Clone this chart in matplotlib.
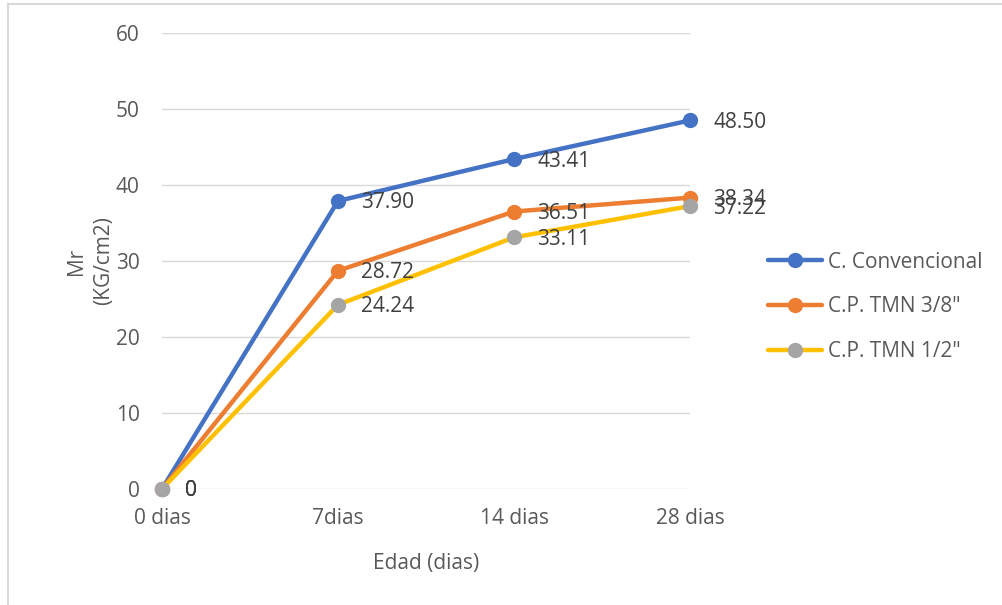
import matplotlib
matplotlib.use("Agg")
import matplotlib.pyplot as plt
from matplotlib.lines import Line2D

categories = ["0 dias", "7dias", "14 dias", "28 dias"]
series_names = ["C. Convencional", "C.P. TMN 3/8\"", "C.P. TMN 1/2\""]
convencional = [0, 37.90, 43.41, 48.50]
tmn_3_8 = [0, 28.72, 36.51, 38.34]
tmn_1_2 = [0, 24.24, 33.11, 37.22]
value_labels = [
    ["0", "37.90", "43.41", "48.50"],
    ["0", "28.72", "36.51", "38.34"],
    ["0", "24.24", "33.11", "37.22"],
]
yticks = [0, 10, 20, 30, 40, 50, 60]

line_colors = ["#4472C4", "#ED7D31", "#FFC000"]
marker_colors = ["#4472C4", "#ED7D31", "#A5A5A5"]
text_color = "#595959"
label_color = "#404040"
fs = 15

plt.rcParams["font.family"] = ["Open Sans", "DejaVu Sans"]

fig = plt.figure(figsize=(10.03, 6.05), dpi=100)
W, H = 1003, 605

# outer chart border
fig.add_artist(Line2D([8 / W, 1.0], [1 - 4 / H, 1 - 4 / H], transform=fig.transFigure,
                      color="#D9D9D9", lw=1.5))
fig.add_artist(Line2D([8 / W, 8 / W], [0, 1 - 4 / H], transform=fig.transFigure,
                      color="#D9D9D9", lw=1.5))

ax = fig.add_axes([162 / W, 1 - 489 / H, (690 - 162) / W, (489 - 33) / H])
x = list(range(len(categories)))

for vals, lc, mc, name, labs in zip([convencional, tmn_3_8, tmn_1_2], line_colors,
                                     marker_colors, series_names, value_labels):
    ax.plot(x, vals, color=lc, lw=3.2, marker="o", markersize=10,
            markerfacecolor=mc, markeredgecolor=mc, label=name, zorder=3,
            solid_capstyle="round", clip_on=False)
    for xv, yv, t in zip(x, vals, labs):
        ax.annotate(t, (xv, yv), xytext=(23, -2), textcoords="offset pixels",
                    ha="left", va="center", fontsize=fs, color=label_color, zorder=4)

ax.set_xlim(0, 3)
ax.set_ylim(0, 60)
ax.set_yticks(yticks)
ax.set_xticks(x)
ax.set_xticklabels(categories)
ax.grid(axis="y", color="#D9D9D9", lw=1)
ax.set_axisbelow(True)
for s in ax.spines.values():
    s.set_visible(False)
ax.tick_params(axis="both", length=0, labelsize=fs, colors=text_color)
ax.tick_params(axis="y", pad=16)
ax.tick_params(axis="x", pad=14)

ax.set_xlabel("Edad (dias)", fontsize=fs, color=text_color, labelpad=17)
ax.set_ylabel("Mr\n(KG/cm2)", fontsize=fs, color=text_color, labelpad=1,
              linespacing=1.4)

ax.legend(loc="center left", bbox_to_anchor=(760 / W, 1 - 307 / H),
          bbox_transform=fig.transFigure, frameon=False, fontsize=fs,
          labelcolor=text_color, handlelength=2.6, handletextpad=0.25,
          labelspacing=1.15, borderaxespad=0)

fig.savefig("out.png", dpi=100)
